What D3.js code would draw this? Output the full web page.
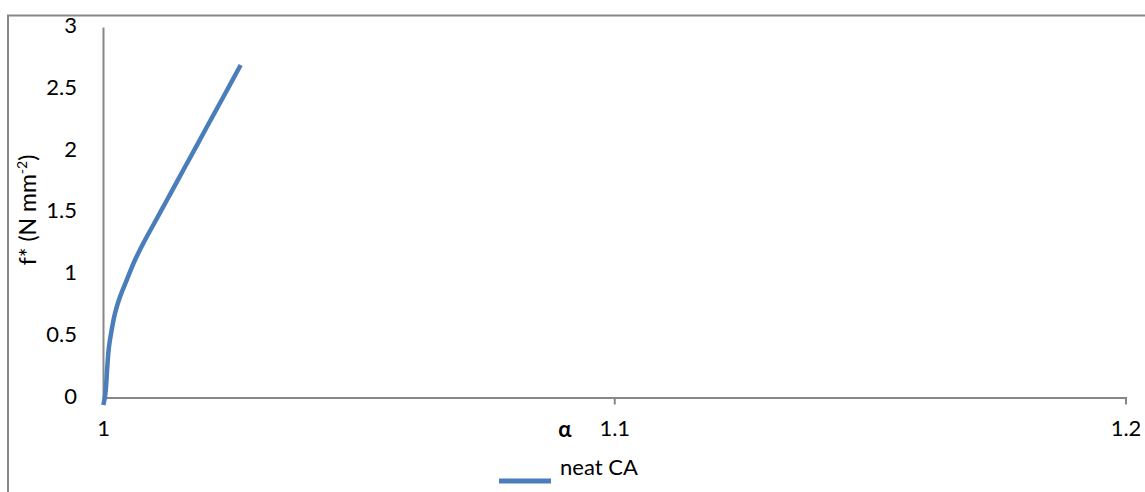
<!DOCTYPE html>
<html>
<head>
<meta charset="utf-8">
<script src="https://cdn.jsdelivr.net/npm/d3@7"></script>
<style>
  html, body { margin: 0; padding: 0; background: #fff; }
  svg { display: block; font-family: Lato, "Open Sans", sans-serif; }
</style>
</head>
<body>
<svg id="chart" width="1145" height="492"></svg>
<script>
// Stretch ratio α against reduced stress f* for neat CA
const alpha = [1.00006, 1.00039, 1.00059, 1.00084, 1.00117, 1.00170, 1.00235, 1.00333,
               1.00464, 1.00626, 1.00822, 1.00984, 1.01246, 1.01506, 1.01766, 1.02028,
               1.02353, 1.02693];
const fStar = [-0.061, 0.006, 0.087, 0.249, 0.411, 0.547, 0.682, 0.816,
               0.951, 1.113, 1.275, 1.397, 1.595, 1.793, 1.989, 2.188,
               2.433, 2.692];
const xTicks = [1, 1.1, 1.2];
const yTicks = [0, 0.5, 1, 1.5, 2, 2.5, 3];
const seriesName = "neat CA";

const svg = d3.select("#chart");
const axisColor = "#878787";
const lineColor = "#4a7ebb";
const fontSize = 22;

const x = d3.scaleLinear().domain([1, 1.2]).range([103, 1125.5]);
const y = d3.scaleLinear().domain([0, 3]).range([397.5, 27]);

// chart-area frame (top and left edges)
svg.append("path")
  .attr("d", "M8,492V15.5H1145")
  .attr("fill", "none")
  .attr("stroke", axisColor)
  .attr("stroke-width", 2);

// y axis
const yAxis = svg.append("g")
  .attr("transform", `translate(${x(1)},0)`)
  .call(d3.axisLeft(y).tickValues(yTicks).tickSize(0).tickPadding(26)
    .tickFormat(d3.format("")));
yAxis.select(".domain").attr("stroke", axisColor).attr("stroke-width", 2);
yAxis.selectAll("text")
  .attr("font-size", fontSize).attr("fill", "#000").attr("font-family", "Lato")
  .attr("dy", "0.26em");

// x axis
const xAxis = svg.append("g")
  .attr("transform", `translate(0,${y(0)})`)
  .call(d3.axisBottom(x).tickValues(xTicks).tickSize(7).tickPadding(16)
    .tickFormat(d3.format("")));
xAxis.select(".domain").attr("stroke", axisColor).attr("stroke-width", 2);
xAxis.selectAll(".tick line")
  .attr("stroke", axisColor).attr("stroke-width", 2)
  .attr("opacity", d => (d === 1.1 ? 1 : 0));
xAxis.selectAll("text")
  .attr("font-size", fontSize).attr("fill", "#000").attr("font-family", "Lato");

// series line
const line = d3.line()
  .x((d, i) => x(alpha[i]))
  .y(d => y(d))
  .curve(d3.curveCatmullRom.alpha(0.5));
svg.append("path")
  .datum(fStar)
  .attr("d", line)
  .attr("fill", "none")
  .attr("stroke", lineColor)
  .attr("stroke-width", 4.5)
  .attr("stroke-linecap", "butt");

// axis titles
svg.append("text")
  .attr("x", 565).attr("y", 437)
  .attr("text-anchor", "middle")
  .attr("font-size", 22).attr("font-weight", "bold")
  .text("α");

const yTitle = svg.append("text")
  .attr("transform", "translate(36,210) rotate(-90)")
  .attr("text-anchor", "middle")
  .attr("font-size", 23);
yTitle.append("tspan").text("f* (N mm");
yTitle.append("tspan").attr("font-size", 14).attr("dy", -9).text("-2");
yTitle.append("tspan").attr("dy", 9).text(")");

// legend
svg.append("line")
  .attr("x1", 499).attr("x2", 551)
  .attr("y1", 481).attr("y2", 481)
  .attr("stroke", lineColor).attr("stroke-width", 5);
svg.append("text")
  .attr("x", 560).attr("y", 475)
  .attr("font-size", fontSize)
  .text(seriesName);
</script>
</body>
</html>
